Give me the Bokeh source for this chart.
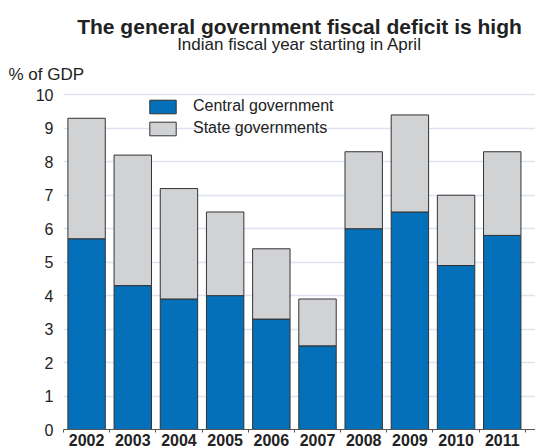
from bokeh.plotting import figure
from bokeh.models import Range1d, FixedTicker, Title, Legend, LegendItem, ColumnDataSource
from bokeh.embed import file_html
from bokeh.resources import INLINE

years = ["2002", "2003", "2004", "2005", "2006", "2007", "2008", "2009", "2010", "2011"]
central = [5.7, 4.3, 3.9, 4.0, 3.3, 2.5, 6.0, 6.5, 4.9, 5.8]
state = [3.6, 3.9, 3.3, 2.5, 2.1, 1.4, 2.3, 2.9, 2.1, 2.5]
y_ticks = [0, 1, 2, 3, 4, 5, 6, 7, 8, 9, 10]

FONT = "Liberation Sans"
BLUE = "#0570ba"
GRAY = "#d1d2d4"

xs = list(range(len(years)))
src = ColumnDataSource(dict(x=xs, central=central, state=state))

p = figure(width=535, height=448, output_backend="svg", toolbar_location=None,
           x_range=Range1d(-0.5, len(years) - 0.5 + 0.22), y_range=Range1d(0, 10.1),
           min_border_left=63, min_border_right=0, min_border_top=91, min_border_bottom=19)
p.outline_line_color = None
p.background_fill_color = "white"
p.title.visible = False

r = p.vbar_stack(["central", "state"], x="x", width=0.81, source=src,
                 fill_color=[BLUE, GRAY], line_color="#333333", line_width=1)

p.xgrid.grid_line_color = None
p.ygrid.grid_line_color = "#dde3f0"
p.ygrid.grid_line_width = 1.5
p.ygrid.ticker = FixedTicker(ticks=y_ticks)

p.xaxis.ticker = FixedTicker(ticks=xs, minor_ticks=[i - 0.5 for i in range(len(years) + 1)])
p.xaxis.major_label_overrides = {i: y for i, y in enumerate(years)}
p.xaxis.major_tick_line_color = None
p.xaxis.major_tick_out = 0
p.xaxis.major_tick_in = 0
p.xaxis.minor_tick_line_color = "#555555"
p.xaxis.minor_tick_out = 3
p.xaxis.minor_tick_in = 0
p.xaxis.axis_line_color = "#555555"
p.xaxis.major_label_text_font = FONT
p.xaxis.major_label_text_font_style = "bold"
p.xaxis.major_label_text_font_size = "16px"
p.xaxis.major_label_text_color = "#222222"
p.xaxis.major_label_standoff = 1

p.yaxis.ticker = FixedTicker(ticks=y_ticks)
p.yaxis.axis_line_color = None
p.yaxis.major_tick_line_color = None
p.yaxis.major_tick_out = 0
p.yaxis.major_tick_in = 0
p.yaxis.minor_tick_line_color = None
p.yaxis.major_label_text_font = FONT
p.yaxis.major_label_text_font_size = "16px"
p.yaxis.major_label_text_color = "#222222"
p.yaxis.major_label_standoff = 10

legend = Legend(items=[LegendItem(label="Central government", renderers=[r[0]]),
                       LegendItem(label="State governments", renderers=[r[1]])],
                location=(83, 292), glyph_width=33, glyph_height=17, label_height=17,
                spacing=4, padding=0, margin=0, label_standoff=14,
                border_line_color=None, background_fill_alpha=0,
                label_text_font=FONT, label_text_font_size="16px", label_text_color="#222222")
p.add_layout(legend, "center")

p.add_layout(Title(text="% of GDP", align="left", offset=-55, standoff=16,
                   text_font=FONT, text_font_style="normal", text_font_size="17px",
                   text_color="#222222"), "above")
p.add_layout(Title(text="Indian fiscal year starting in April", align="center",
                   standoff=1, text_font=FONT, text_font_style="normal", text_font_size="17px",
                   text_color="#222222"), "above")
p.add_layout(Title(text="The general government fiscal deficit is high", align="center",
                   standoff=-10, text_font=FONT, text_font_style="bold",
                   text_font_size="21px", text_color="#222222"), "above")

open("out.html", "w").write(file_html(p, INLINE))
